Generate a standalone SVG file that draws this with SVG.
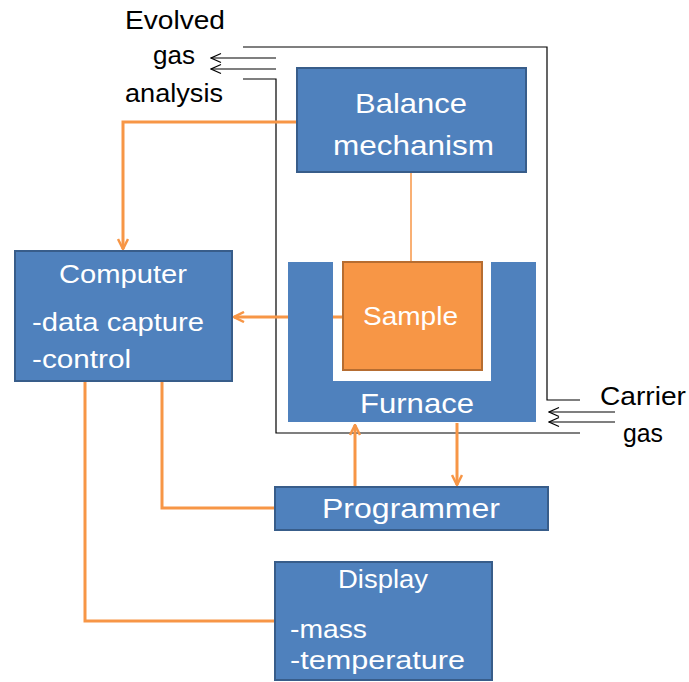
<svg xmlns="http://www.w3.org/2000/svg" width="689" height="682" viewBox="0 0 689 682">
  <style>
    .box { fill: #4F81BD; stroke: #385D8A; stroke-width: 2; }
    .sample { fill: #F79646; stroke: #B66D31; stroke-width: 2; }
    .label { font-family: "Liberation Sans", "DejaVu Sans", sans-serif; font-size: 26px; fill: #FFFFFF; }
    .big { font-size: 28px; }
    .plain { font-family: "Liberation Sans", "DejaVu Sans", sans-serif; font-size: 26px; fill: #000000; }
    .link { fill: none; stroke: #F79646; stroke-width: 3; }
    .gas { fill: none; stroke: #000000; stroke-width: 1.2; }
  </style>
  <defs>
    <marker id="vee" viewBox="0 0 12 12" refX="11" refY="6" markerWidth="12" markerHeight="12" markerUnits="userSpaceOnUse" orient="auto">
      <polyline points="1,1 11,6 1,11" fill="none" stroke="#F79646" stroke-width="2.5"/>
    </marker>
    <marker id="veeThin" viewBox="0 0 12 12" refX="11" refY="6" markerWidth="12" markerHeight="12" markerUnits="userSpaceOnUse" orient="auto">
      <polyline points="1,1.5 11,6 1,10.5" fill="none" stroke="#000000" stroke-width="1.2"/>
    </marker>
  </defs>

  <rect width="689" height="682" fill="#FFFFFF"/>

  <!-- gas flow enclosure and arrows -->
  <g id="gas-flow">
    <polyline class="gas" points="243,47 547,47 547,400 580,400"/>
    <polyline class="gas" points="243,79 276,79 276,433 580,433"/>
    <line class="gas" x1="276" y1="58" x2="211" y2="58" marker-end="url(#veeThin)"/>
    <line class="gas" x1="276" y1="69" x2="211" y2="69" marker-end="url(#veeThin)"/>
    <line class="gas" x1="615" y1="412" x2="549" y2="412" marker-end="url(#veeThin)"/>
    <line class="gas" x1="615" y1="422" x2="549" y2="422" marker-end="url(#veeThin)"/>
    <text class="plain" x="125" y="29" textLength="100" lengthAdjust="spacingAndGlyphs">Evolved</text>
    <text class="plain" x="153" y="64" textLength="42" lengthAdjust="spacingAndGlyphs">gas</text>
    <text class="plain" x="125" y="102" textLength="98" lengthAdjust="spacingAndGlyphs">analysis</text>
    <text class="plain" x="600" y="405" textLength="86" lengthAdjust="spacingAndGlyphs">Carrier</text>
    <text class="plain" x="623" y="442" textLength="40" lengthAdjust="spacingAndGlyphs">gas</text>
  </g>

  <!-- connectors -->
  <g id="connectors">
    <polyline class="link" points="297,122 123,122 123,249" marker-end="url(#vee)"/>
    <line x1="411" y1="172" x2="411" y2="261" stroke="#F79646" stroke-width="1.5"/>
    <line class="link" x1="343" y1="317" x2="234" y2="317" marker-end="url(#vee)"/>
    <polyline class="link" points="85,381 85,621 275,621"/>
    <polyline class="link" points="162,381 162,508 275,508"/>
    <line class="link" x1="355" y1="487" x2="355" y2="425" marker-end="url(#vee)"/>
    <line class="link" x1="457" y1="423" x2="457" y2="485" marker-end="url(#vee)"/>
  </g>

  <g id="balance">
    <rect class="box" x="297" y="68" width="229" height="104"/>
    <text class="label big" x="355" y="113" textLength="112" lengthAdjust="spacingAndGlyphs">Balance</text>
    <text class="label big" x="333" y="155" textLength="161" lengthAdjust="spacingAndGlyphs">mechanism</text>
  </g>

  <g id="furnace">
    <path d="M288,262 H333 V381 H491 V262 H536 V422 H288 Z" fill="#4F81BD"/>
    <text class="label big" x="360" y="413" textLength="114" lengthAdjust="spacingAndGlyphs">Furnace</text>
  </g>

  <g id="sample">
    <rect class="sample" x="343" y="262" width="139" height="108"/>
    <text class="label" x="363" y="325" textLength="95" lengthAdjust="spacingAndGlyphs">Sample</text>
  </g>

  <g id="computer">
    <rect class="box" x="15" y="251" width="217" height="130"/>
    <text class="label" x="59" y="283" textLength="128" lengthAdjust="spacingAndGlyphs">Computer</text>
    <text class="label" x="32" y="331" textLength="172" lengthAdjust="spacingAndGlyphs">-data capture</text>
    <text class="label" x="32" y="368" textLength="99" lengthAdjust="spacingAndGlyphs">-control</text>
  </g>

  <g id="programmer">
    <rect class="box" x="275" y="487" width="273" height="43"/>
    <text class="label big" x="322" y="518" textLength="178" lengthAdjust="spacingAndGlyphs">Programmer</text>
  </g>

  <g id="display">
    <rect class="box" x="275" y="562" width="217" height="118"/>
    <text class="label" x="338" y="588" textLength="90" lengthAdjust="spacingAndGlyphs">Display</text>
    <text class="label" x="290" y="638" textLength="77" lengthAdjust="spacingAndGlyphs">-mass</text>
    <text class="label" x="290" y="669" textLength="175" lengthAdjust="spacingAndGlyphs">-temperature</text>
  </g>
</svg>
